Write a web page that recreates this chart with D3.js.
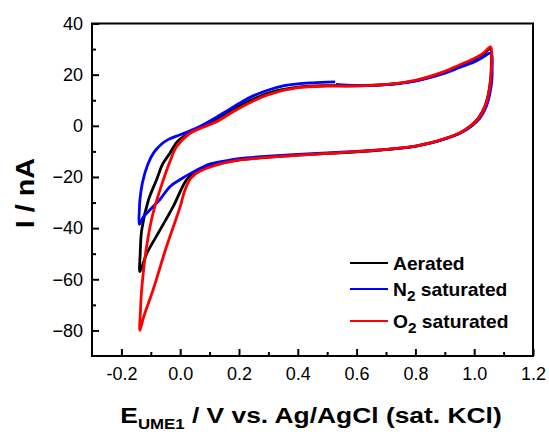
<!DOCTYPE html>
<html>
<head>
<meta charset="utf-8">
<script src="https://cdn.jsdelivr.net/npm/d3@7.9.0/dist/d3.min.js"></script>
<style>
  body { margin: 0; background: #fff; }
  svg { display: block; font-family: Arial, "Liberation Sans", sans-serif; }
</style>
</head>
<body>
<div id="chart"></div>
<script>
// cyclic voltammograms, [E (V), I (nA)] in scan order (start ~0.53 V, positive first)
const aerated = [
  [0.53,15.7],[0.6,15.6],[0.7,16.1],[0.8,17.7],[0.9,21],[0.95,23.4],[1.0,26],[1.03,27.9],[1.055,30],
  [1.058,23],[1.056,18.5],[1.049,12.8],[1.036,7.5],[1.014,3],[0.99,0.2],[0.95,-2.9],[0.9,-5.1],
  [0.85,-6.8],[0.8,-8],[0.7,-9.3],[0.6,-10.2],[0.5,-10.8],[0.4,-11.5],[0.3,-12.2],[0.2,-13.3],
  [0.15,-14.3],[0.1,-15.8],[0.07,-17],[0.05,-18.2],[0.022,-21],[-0.024,-31.6],[-0.069,-40.8],
  [-0.114,-50],[-0.137,-57],
  [-0.136,-50],[-0.131,-40.8],[-0.108,-29],[-0.08,-21],[-0.06,-15],[-0.035,-10.7],[-0.01,-6.2],
  [0.022,-3.5],[0.07,-0.5],[0.12,2.5],[0.18,6.5],[0.25,10.5],[0.3,12.8],[0.4,15.1],[0.5,15.7],[0.53,15.7]
];
const n2sat = [
  [0.53,16.2],[0.6,15.8],[0.7,16.1],[0.8,17.5],[0.9,20.6],[0.95,22.8],[1.0,25],[1.03,26.8],[1.057,28.5],
  [1.061,22],[1.06,18],[1.053,12.5],[1.04,7.3],[1.018,2.8],[0.99,-0.2],[0.95,-3],[0.9,-5.1],
  [0.85,-6.7],[0.8,-7.9],[0.7,-9.2],[0.6,-10],[0.5,-10.6],[0.4,-11.2],[0.3,-11.9],[0.2,-12.8],
  [0.15,-13.8],[0.1,-15],[0.079,-16],[0.04,-18.3],[0,-21],[-0.035,-23.8],[-0.069,-28.8],
  [-0.1,-32.5],[-0.125,-35.6],[-0.139,-38.5],
  [-0.139,-33],[-0.137,-29],[-0.128,-22],[-0.11,-15],[-0.09,-10.5],[-0.065,-7.3],[-0.04,-5.3],
  [0,-3.5],[0.05,-1.2],[0.1,1.8],[0.15,5.2],[0.2,8.7],[0.25,11.8],[0.3,14],[0.35,15.6],[0.4,16.4],
  [0.45,16.8],[0.527,17.2]
];
const o2sat = [
  [0.53,15.5],[0.6,15.6],[0.7,16.2],[0.8,17.8],[0.9,21.3],[0.95,23.8],[1.0,26.3],[1.03,28.3],[1.056,30.8],
  [1.059,24],[1.057,19],[1.05,13],[1.037,7.6],[1.015,3],[0.99,0.2],[0.95,-2.8],[0.9,-5],
  [0.85,-6.7],[0.8,-7.9],[0.7,-9.2],[0.6,-10.1],[0.5,-10.8],[0.4,-11.5],[0.3,-12.3],[0.2,-13.4],
  [0.15,-14.5],[0.1,-16.2],[0.07,-17.6],[0.05,-19],[0.033,-21],[0.015,-25.5],[0,-31.6],
  [-0.046,-47],[-0.092,-64],[-0.125,-75],[-0.137,-80],
  [-0.135,-72],[-0.131,-64],[-0.114,-47],[-0.092,-34],[-0.057,-21],[-0.035,-14],[-0.012,-8.1],
  [0.033,-2.9],[0.08,-0.5],[0.13,2],[0.18,5.5],[0.25,9.8],[0.3,12.2],[0.4,14.9],[0.5,15.5],[0.53,15.5]
];

const seriesNames  = ['Aerated', 'N2 saturated', 'O2 saturated'];
const seriesColors = ['#000000', '#0000ff', '#ff0000'];
const xMajorTicks = [-0.2, 0.0, 0.2, 0.4, 0.6, 0.8, 1.0, 1.2];
const xMinorTicks = [-0.1, 0.1, 0.3, 0.5, 0.7, 0.9, 1.1];
const yMajorTicks = [-80, -60, -40, -20, 0, 20, 40];
const yMinorTicks = [-70, -50, -30, -10, 10, 30];

const W = 549, H = 436;
const L = 92, R = 533, T = 23.5, B = 356;

const svg = d3.select('#chart').append('svg').attr('width', W).attr('height', H);

const x = d3.scaleLinear().domain([-0.3, 1.2]).range([L, R]);
const y = d3.scaleLinear().domain([-90, 40]).range([B, T]);

// curves
const line = d3.line().x(d => x(d[0])).y(d => y(d[1])).curve(d3.curveCatmullRom.alpha(0.5));
[aerated, n2sat, o2sat].forEach((s, i) => {
  svg.append('path').datum(s)
    .attr('fill', 'none').attr('stroke', seriesColors[i])
    .attr('stroke-width', 2.8).attr('stroke-linejoin', 'round')
    .attr('d', line);
});

// axes (ticks point inward)
const fmtX = d => d.toFixed(1);
svg.append('g').attr('transform', `translate(0,${B})`)
  .call(d3.axisBottom(x).tickValues(xMajorTicks).tickFormat(fmtX).tickSizeInner(-7).tickSizeOuter(0).tickPadding(11));
svg.append('g').attr('transform', `translate(0,${B})`)
  .call(d3.axisBottom(x).tickValues(xMinorTicks).tickFormat('').tickSizeInner(-4).tickSizeOuter(0));
svg.append('g').attr('transform', `translate(${L},0)`)
  .call(d3.axisLeft(y).tickValues(yMajorTicks).tickSizeInner(-7).tickSizeOuter(0).tickPadding(9));
svg.append('g').attr('transform', `translate(${L},0)`)
  .call(d3.axisLeft(y).tickValues(yMinorTicks).tickFormat('').tickSizeInner(-4).tickSizeOuter(0));

svg.selectAll('.domain').remove();
svg.selectAll('.tick line').attr('stroke', '#000').attr('stroke-width', 2);
svg.selectAll('.tick text').attr('font-size', 18).attr('fill', '#000')
  .attr('font-family', 'Arial, "Liberation Sans", sans-serif');

svg.append('rect').attr('x', L).attr('y', T).attr('width', R - L).attr('height', B - T)
  .attr('fill', 'none').attr('stroke', '#000').attr('stroke-width', 2);

// axis titles (glyphs in the source are a little wider than plain Arial)
const xt = svg.append('text').attr('transform', `translate(311,423) scale(1.2,1)`)
  .attr('text-anchor', 'middle').attr('font-weight', 'bold').attr('font-size', 22);
xt.append('tspan').text('E');
xt.append('tspan').attr('font-size', 14).attr('dy', 6).text('UME1');
xt.append('tspan').attr('dy', -6).text(' / V vs. Ag/AgCl (sat. KCl)');

svg.append('text').attr('transform', `translate(34,193) rotate(-90) scale(1.15,1)`)
  .attr('text-anchor', 'middle').attr('font-weight', 'bold').attr('font-size', 25)
  .text('I / nA');

// legend
const legY = [263, 289, 321];
seriesNames.forEach((name, i) => {
  const g = svg.append('g').attr('transform', `translate(350,${legY[i]})`);
  g.append('line').attr('x1', 0).attr('x2', 38).attr('y1', 0).attr('y2', 0)
    .attr('stroke', seriesColors[i]).attr('stroke-width', 2);
  const t = g.append('text').attr('transform', 'translate(43,6.5) scale(1.1,1)')
    .attr('font-weight', 'bold').attr('font-size', 17.5);
  const m = name.match(/^([A-Z])(\d)(.*)$/);
  if (m) {
    t.append('tspan').text(m[1]);
    t.append('tspan').attr('font-size', 14).attr('dy', 5).text(m[2]);
    t.append('tspan').attr('dy', -5).text(m[3]);
  } else {
    t.text(name);
  }
});
</script>
</body>
</html>
